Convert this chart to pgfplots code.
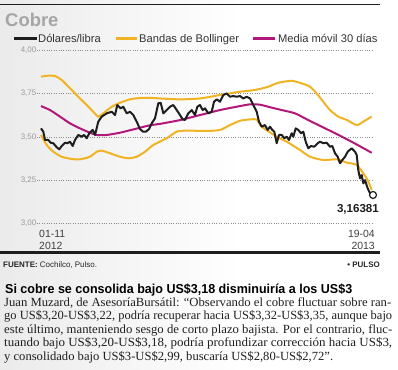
\documentclass[border=0pt]{standalone}
\usepackage{pgfplots}
\pgfplotsset{compat=1.18}
\usepackage{fontspec}
\setmainfont{Liberation Serif}
\setsansfont{Liberation Sans}
\usepackage{graphicx}
\definecolor{cyel}{HTML}{F0B323}
\definecolor{cmag}{HTML}{B3177A}
\definecolor{cblk}{HTML}{1E1E1E}
\definecolor{cgray}{HTML}{9A9A9A}
\newcommand{\fs}[1]{\fontsize{#1}{#1}\selectfont}
\begin{document}
\begin{tikzpicture}
\useasboundingbox (0,0) rectangle (398bp,-370bp);
\shade[left color=black!8, right color=white] (0,0) rectangle (240bp,-370bp);
\begin{scope}[x=1bp,y=-1bp]
\draw[line width=0.8bp, cblk] (0,4)--(380,4);
\node[anchor=base west, inner sep=0, text=black!35] at (5,26) {\sffamily\bfseries\fs{18.5}Cobre};
\draw[cblk, line width=3bp] (14,38)--(37,38);
\node[anchor=base west, inner sep=0, text=black!80] at (38,42) {\sffamily\fs{11.2}Dólares/libra};
\draw[cyel, line width=3bp] (116,38)--(137,38);
\node[anchor=base west, inner sep=0, text=black!80] at (139,42) {\sffamily\fs{11.2}Bandas de Bollinger};
\draw[cmag, line width=3bp] (253,38)--(275,38);
\node[anchor=base west, inner sep=0, text=black!80] at (278,42) {\sffamily\fs{11.2}Media móvil 30 días};
\node[anchor=base west, inner sep=0, text=black!75] at (39,237) {\sffamily\fs{10.5}01-11};
\node[anchor=base west, inner sep=0, text=black!75] at (39,249) {\sffamily\fs{10.5}2012};
\node[anchor=base east, inner sep=0, text=black!75] at (375,237) {\sffamily\fs{10.5}19-04};
\node[anchor=base east, inner sep=0, text=black!75] at (375,249) {\sffamily\fs{10.5}2013};
\node[anchor=base east, inner sep=0, text=cblk] at (379,212) {\sffamily\bfseries\fs{11.6}3,16381};
\draw[line width=3bp, cblk] (0,252)--(380,252);
\node[anchor=base west, inner sep=0, text=black!85] at (3,267) {\sffamily\fs{8}\textbf{FUENTE:} Cochilco, Pulso.};
\node[anchor=base east, inner sep=0, text=black!85] at (380,267) {\sffamily\bfseries\fs{8}• PULSO};
\node[anchor=base west, inner sep=0, text=black] at (5,293) {\resizebox{347bp}{\height}{\sffamily\bfseries\fs{13}Si cobre se consolida bajo US\$3,18 disminuiría a los US\$3}};
\node[anchor=base west, inner sep=0, text=black!88] at (4,306) {\resizebox{387bp}{\height}{\rmfamily\fs{12.5}Juan Muzard, de AsesoríaBursátil: “Observando el cobre fluctuar sobre ran-}};
\node[anchor=base west, inner sep=0, text=black!88] at (4,319.5) {\resizebox{388bp}{\height}{\rmfamily\fs{12.5}go US\$3,20-US\$3,22, podría recuperar hacia US\$3,32-US\$3,35, aunque bajo}};
\node[anchor=base west, inner sep=0, text=black!88] at (4,333) {\resizebox{388bp}{\height}{\rmfamily\fs{12.5}este último, manteniendo sesgo de corto plazo bajista. Por el contrario, fluc-}};
\node[anchor=base west, inner sep=0, text=black!88] at (4,346.5) {\resizebox{388bp}{\height}{\rmfamily\fs{12.5}tuando bajo US\$3,20-US\$3,18, podría profundizar corrección hacia US\$3,}};
\node[anchor=base west, inner sep=0, text=black!88] at (4,360) {\resizebox{329bp}{\height}{\rmfamily\fs{12.5}y consolidado bajo US\$3-US\$2,99, buscaría US\$2,80-US\$2,72”.}};
\end{scope}
\begin{axis}[at={(37bp,-223.3bp)}, anchor=south west, scale only axis,
  width=336bp, height=172.9bp, xmin=37, xmax=373, ymin=3, ymax=4, clip=false,
  axis line style={draw=none}, xtick=\empty,
  ytick={3,3.25,3.5,3.75,4}, yticklabels={{3,00},{3,25},{3,50},{3,75},{4,00}},
  major tick length=0pt, ymajorgrids,
  grid style={black!45, dotted, line width=0.6bp},
  yticklabel style={font=\sffamily\fs{8}, text=cgray, inner sep=0.5bp}]
\addplot[cyel, line width=2bp, smooth, tension=0.4] coordinates {
(41,3.848)(48.3,3.854)(55,3.852)(61.7,3.829)(70,3.781)(78.3,3.732)(86.7,3.684)(93.3,3.645)(98.3,3.617)(103.3,3.636)(111.7,3.674)(120,3.697)(130,3.717)(140,3.725)(150,3.726)(160,3.722)(180,3.717)(200,3.722)(220,3.742)(240,3.761)(255,3.771)(268.3,3.790)(278.3,3.813)(291.7,3.824)(301.7,3.809)(310,3.790)(316.7,3.751)(323.3,3.703)(330,3.655)(338.3,3.617)(346.7,3.598)(356.7,3.568)(363.3,3.588)(371.7,3.617)};
\addplot[cyel, line width=2bp, smooth, tension=0.4] coordinates {
(41,3.511)(46.7,3.453)(53.3,3.414)(61.7,3.385)(71.7,3.372)(80,3.370)(90,3.385)(96.7,3.414)(101.7,3.420)(110,3.405)(120,3.385)(128.3,3.376)(136.7,3.385)(145,3.414)(153.3,3.453)(166.7,3.492)(176.7,3.530)(186.7,3.536)(206.7,3.534)(220,3.540)(230,3.568)(240,3.593)(250,3.601)(256.7,3.600)(261.7,3.559)(276.7,3.501)(286.7,3.472)(300,3.424)(310,3.385)(323.3,3.366)(336.7,3.370)(346.7,3.351)(356.7,3.337)(366.7,3.260)(371.7,3.193)};
\addplot[cmag, line width=2bp, smooth, tension=0.4] coordinates {
(41,3.678)(50,3.655)(60,3.617)(70,3.578)(80,3.549)(90,3.524)(96.7,3.511)(106.7,3.511)(120,3.524)(133.3,3.543)(150,3.567)(160,3.575)(180,3.597)(200,3.626)(220,3.655)(240,3.678)(250,3.688)(260,3.686)(268.3,3.674)(281.7,3.655)(295,3.636)(308.3,3.597)(321.7,3.559)(335,3.521)(348.3,3.482)(361.7,3.440)(371.7,3.408)};
\addplot[cblk, line width=2bp, line join=round] coordinates {
(41,3.549)(43.3,3.530)(45,3.482)(48.3,3.482)(50.7,3.466)(53.3,3.463)(56.7,3.440)(59.3,3.428)(61.7,3.447)(65,3.466)(67.3,3.463)(70,3.472)(72.7,3.447)(75,3.482)(78.3,3.511)(81.7,3.501)(84,3.511)(86.7,3.492)(89.3,3.521)(92.7,3.540)(95,3.511)(98.3,3.588)(101.7,3.617)(106.7,3.636)(111.7,3.645)(115,3.626)(117.3,3.684)(120.7,3.665)(123.3,3.674)(126.7,3.636)(130,3.645)(133.3,3.626)(136.7,3.588)(140,3.545)(143,3.530)(146,3.530)(149,3.545)(151.7,3.578)(155,3.607)(158.3,3.694)(160.7,3.697)(163.3,3.636)(166.7,3.655)(170,3.674)(173.3,3.684)(176.7,3.655)(180,3.626)(182.7,3.601)(185,3.598)(188.3,3.636)(191.7,3.655)(195,3.626)(197.3,3.674)(200,3.684)(202.7,3.655)(205,3.665)(208.3,3.636)(211.7,3.645)(214,3.703)(216.7,3.717)(220,3.703)(223.3,3.742)(226.7,3.751)(230,3.732)(233.3,3.736)(236.7,3.732)(240,3.736)(243.3,3.722)(246.7,3.732)(250,3.722)(253.3,3.684)(256.7,3.645)(259,3.588)(261.7,3.559)(265,3.568)(267.7,3.540)(270,3.559)(272.3,3.540)(274.3,3.530)(276.7,3.463)(279,3.511)(281.7,3.511)(284.3,3.492)(286.7,3.501)(289,3.482)(291.7,3.521)(293.3,3.501)(295.7,3.549)(298.3,3.540)(301,3.521)(303.3,3.530)(305.7,3.472)(308.3,3.434)(311,3.447)(314.3,3.443)(317.7,3.463)(320,3.472)(323.3,3.463)(326.7,3.466)(330,3.443)(332.3,3.447)(335,3.405)(337.7,3.385)(340,3.347)(342.3,3.366)(345,3.385)(347.7,3.414)(351.7,3.434)(355,3.414)(356.7,3.395)(358.3,3.308)(360,3.260)(361.7,3.279)(363.3,3.231)(365,3.250)(367.7,3.202)(370,3.174)(373,3.164)};
\addplot[only marks, mark=*, mark size=3.5bp, mark options={fill=white, draw=cblk, line width=1.2bp}] coordinates {(373,3.16381)};
\end{axis}
\end{tikzpicture}
\end{document}
